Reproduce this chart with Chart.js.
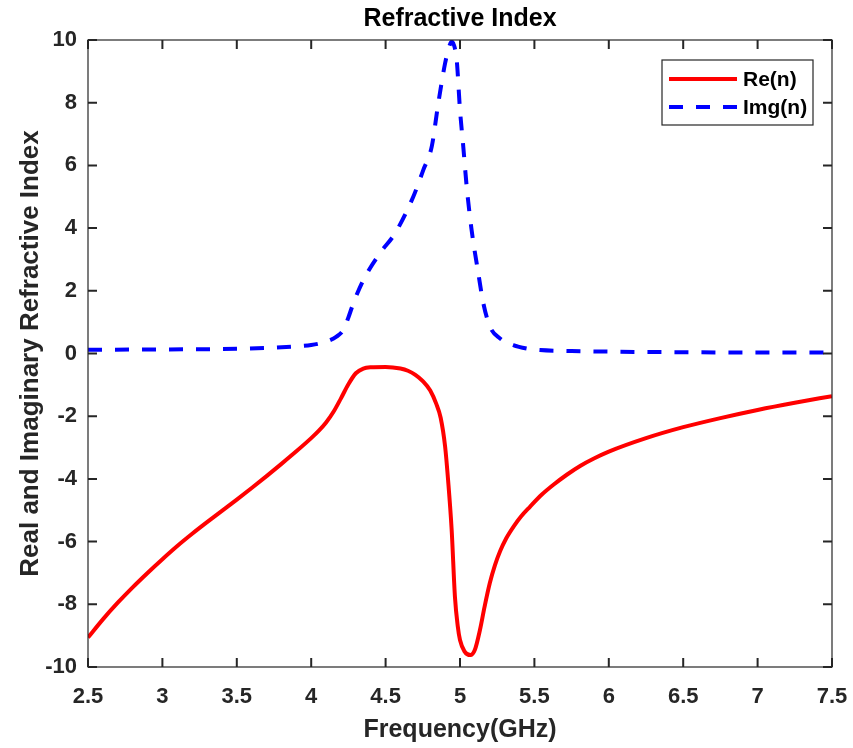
<!DOCTYPE html>
<html>
<head>
<meta charset="utf-8">
<script src="https://cdn.jsdelivr.net/npm/chart.js@4.4.0/dist/chart.umd.min.js"></script>
<style>
  html, body { margin: 0; padding: 0; background: #fff; }
  #chart { display: block; }
</style>
</head>
<body>
<canvas id="chart" width="853" height="748"></canvas>
<script>
// Re(n)
const freqRe = [2.5, 2.6, 2.7, 2.8, 2.9, 3.0, 3.1, 3.2, 3.3, 3.4, 3.5, 3.6, 3.7, 3.8, 3.9, 4.0,
  4.05, 4.1, 4.15, 4.2, 4.25, 4.3, 4.35, 4.4, 4.5, 4.6, 4.65, 4.7, 4.75, 4.8, 4.84, 4.87,
  4.9, 4.92, 4.944, 4.966, 4.985, 5.0, 5.03, 5.07, 5.1, 5.134, 5.165, 5.2, 5.235, 5.27, 5.31,
  5.36, 5.41, 5.47, 5.55, 5.63, 5.72, 5.81, 5.9, 6.0, 6.25, 6.5, 6.75, 7.0, 7.25, 7.5];
const reN = [-9.06, -8.48, -7.95, -7.46, -7.0, -6.56, -6.14, -5.75, -5.38, -5.02, -4.66, -4.29, -3.91, -3.52, -3.12, -2.7,
  -2.47, -2.2, -1.86, -1.43, -0.98, -0.63, -0.48, -0.44, -0.43, -0.48, -0.55, -0.68, -0.88, -1.18, -1.6, -2.05,
  -2.97, -4.04, -5.63, -7.76, -8.7, -9.14, -9.5, -9.62, -9.45, -8.82, -8.08, -7.33, -6.75, -6.3, -5.9,
  -5.52, -5.2, -4.89, -4.5, -4.18, -3.86, -3.58, -3.35, -3.13, -2.7, -2.35, -2.06, -1.8, -1.57, -1.36];

// Img(n)
const freqIm = [2.5, 3.0, 3.5, 3.75, 3.9, 4.0, 4.1, 4.17, 4.216, 4.25, 4.283, 4.35, 4.462, 4.563,
  4.686, 4.753, 4.81, 4.854, 4.9, 4.925, 4.944, 4.962, 4.978, 5.0, 5.022, 5.045, 5.078, 5.123,
  5.157, 5.202, 5.269, 5.358, 5.45, 5.538, 5.75, 6.0, 6.5, 7.0, 7.5];
const imgN = [0.12, 0.13, 0.15, 0.19, 0.23, 0.27, 0.38, 0.54, 0.75, 1.15, 1.6, 2.34, 3.2, 3.83,
  5.0, 5.85, 6.6, 7.98, 9.26, 9.75, 9.95, 9.8, 9.36, 7.77, 6.6, 5.32, 3.94, 2.56,
  1.6, 0.85, 0.48, 0.27, 0.16, 0.11, 0.08, 0.06, 0.04, 0.03, 0.03];

const xTicks = [2.5, 3, 3.5, 4, 4.5, 5, 5.5, 6, 6.5, 7, 7.5];
const yTicks = [-10, -8, -6, -4, -2, 0, 2, 4, 6, 8, 10];

const FONT = "'Liberation Sans', Arial, Helvetica, sans-serif";
const AXIS = '#262626';

const toPoints = (xs, ys) => xs.map((x, i) => ({ x, y: ys[i] }));

// box, inward ticks on all four sides, and the legend
const frame = {
  id: 'frame',
  afterDatasetsDraw(chart) {
    const { ctx, chartArea: a, scales: { x, y } } = chart;
    const len = 9;
    ctx.save();
    ctx.strokeStyle = AXIS;
    ctx.lineWidth = 1.2;
    ctx.strokeRect(a.left, a.top, a.right - a.left, a.bottom - a.top);

    ctx.lineWidth = 2;
    ctx.beginPath();
    xTicks.forEach(v => {
      const px = x.getPixelForValue(v);
      ctx.moveTo(px, a.bottom); ctx.lineTo(px, a.bottom - len);
      ctx.moveTo(px, a.top); ctx.lineTo(px, a.top + len);
    });
    yTicks.forEach(v => {
      const py = y.getPixelForValue(v);
      ctx.moveTo(a.left, py); ctx.lineTo(a.left + len, py);
      ctx.moveTo(a.right, py); ctx.lineTo(a.right - len, py);
    });
    ctx.stroke();

    // legend
    const lx = a.right - 170, ly = a.top + 20, lw = 151, lh = 65;
    ctx.fillStyle = '#fff';
    ctx.fillRect(lx, ly, lw, lh);
    ctx.lineWidth = 1.2;
    ctx.strokeStyle = AXIS;
    ctx.strokeRect(lx, ly, lw, lh);
    ctx.font = `bold 21px ${FONT}`;
    ctx.textBaseline = 'middle';
    ctx.textAlign = 'left';
    chart.data.datasets.forEach((ds, i) => {
      const rowY = ly + 19 + i * 28;
      ctx.beginPath();
      ctx.strokeStyle = ds.borderColor;
      ctx.lineWidth = ds.borderWidth;
      ctx.setLineDash(ds.borderDash || []);
      ctx.moveTo(lx + 7, rowY);
      ctx.lineTo(lx + 75, rowY);
      ctx.stroke();
      ctx.setLineDash([]);
      ctx.fillStyle = '#000';
      ctx.fillText(ds.label, lx + 81, rowY + 1);
    });
    ctx.restore();
  }
};

new Chart(document.getElementById('chart'), {
  type: 'scatter',
  data: {
    datasets: [
      {
        label: 'Re(n)',
        data: toPoints(freqRe, reN),
        showLine: true,
        borderColor: '#ff0000',
        borderWidth: 4,
        pointRadius: 0,
        cubicInterpolationMode: 'monotone'
      },
      {
        label: 'Img(n)',
        data: toPoints(freqIm, imgN),
        showLine: true,
        borderColor: '#0000ff',
        borderWidth: 4,
        borderDash: [14, 13],
        pointRadius: 0,
        cubicInterpolationMode: 'monotone'
      }
    ]
  },
  options: {
    responsive: false,
    animation: false,
    layout: { padding: { left: 0, top: 0, right: 21, bottom: 0 } },
    plugins: {
      legend: { display: false },
      tooltip: { enabled: false },
      title: {
        display: true,
        fullSize: false,
        text: 'Refractive Index',
        color: '#000',
        font: { family: FONT, size: 25, weight: 'bold' },
        padding: { top: 4, bottom: 6 }
      }
    },
    scales: {
      x: {
        type: 'linear',
        min: 2.5,
        max: 7.5,
        afterBuildTicks: s => { s.ticks = xTicks.map(value => ({ value })); },
        afterFit: s => { s.height = 81; },
        // ticks themselves are drawn by the frame plugin; tickLength only spaces the labels
        grid: { display: false, drawTicks: true, tickLength: 17 },
        border: { display: false },
        ticks: {
          color: AXIS,
          padding: 0,
          maxRotation: 0,
          font: { family: FONT, size: 22, weight: 'bold' },
          callback: v => String(v)
        },
        title: {
          display: true,
          text: 'Frequency(GHz)',
          color: AXIS,
          font: { family: FONT, size: 25, weight: 'bold' },
          padding: { top: 0, bottom: 3 }
        }
      },
      y: {
        min: -10,
        max: 10,
        afterBuildTicks: s => { s.ticks = yTicks.map(value => ({ value })); },
        afterFit: s => { s.width = 88; },
        grid: { display: false, drawTicks: false },
        border: { display: false },
        ticks: {
          color: AXIS,
          padding: 11,
          font: { family: FONT, size: 22, weight: 'bold' },
          callback: v => String(v)
        },
        title: {
          display: true,
          text: 'Real and Imaginary Refractive Index',
          color: AXIS,
          font: { family: FONT, size: 26, weight: 'bold' },
          padding: { top: 15, bottom: 0 }
        }
      }
    }
  },
  plugins: [frame]
});
</script>
</body>
</html>
